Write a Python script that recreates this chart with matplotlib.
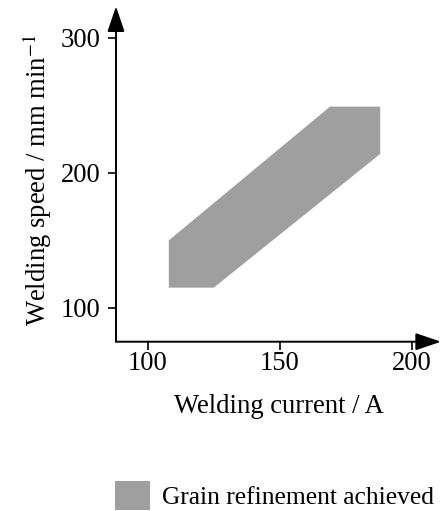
import matplotlib.pyplot as plt
from matplotlib.patches import Patch

# process window (polygon corners)
region_current = [108, 108, 125, 188, 188, 169]
region_speed = [150, 115, 115, 214, 249, 249]

x_ticks = [100, 150, 200]
y_ticks = [100, 200, 300]

plt.rcParams['font.family'] = ['Liberation Serif', 'DejaVu Serif']
plt.rcParams['mathtext.fontset'] = 'stix'

fs = 19.2

fig = plt.figure(figsize=(4.43, 5.11), dpi=100)
ax = fig.add_axes([116 / 443, 169.3 / 511, 325 / 443, 333.7 / 511])

fill_col = '#9f9f9f'
ax.fill(region_current, region_speed, color=fill_col, lw=0)

ax.set_xlim(88, 211)
ax.set_ylim(75, 322)
ax.set_xticks(x_ticks)
ax.set_yticks(y_ticks)
ax.tick_params(labelsize=fs, width=1.2, length=6, color='k')
ax.tick_params(axis='x', pad=1)
ax.tick_params(axis='y', pad=5)

for s in ['top', 'right', 'left', 'bottom']:
    ax.spines[s].set_visible(False)

# axes with arrow heads
arr = dict(arrowstyle='-|>,head_length=0.65,head_width=0.22', color='k', lw=1.4,
           mutation_scale=24, shrinkA=0, shrinkB=0)
ax.annotate('', xy=(1.0, 0), xytext=(0, 0), xycoords='axes fraction',
            arrowprops=arr, annotation_clip=False)
ax.annotate('', xy=(0, 1.005), xytext=(0, 0), xycoords='axes fraction',
            arrowprops=arr, annotation_clip=False)

ax.set_xlabel('Welding current / A', fontsize=fs, labelpad=13)
ax.set_ylabel('Welding speed / mm min$^{-1}$', fontsize=fs)
ax.yaxis.set_label_coords(-0.19, 0.485)

handle = Patch(facecolor=fill_col, edgecolor='none')
fig.legend([handle], ['Grain refinement achieved'], loc='lower left',
           bbox_to_anchor=(115 / 443, 1 / 511), frameon=False, fontsize=18.4,
           handlelength=1.35, handleheight=1.35, handletextpad=0.5,
           borderpad=0, borderaxespad=0)

fig.savefig('out.png', dpi=100)
